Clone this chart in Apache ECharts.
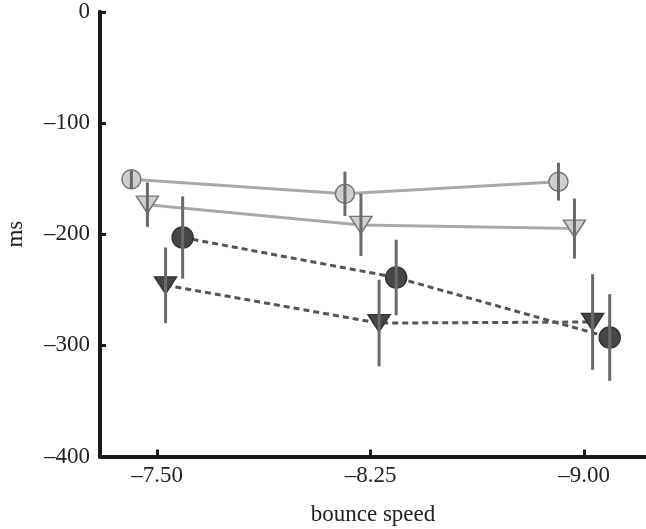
<!DOCTYPE html>
<html>
<head>
<meta charset="utf-8">
<script src="https://cdn.jsdelivr.net/npm/echarts@6/dist/echarts.min.js"></script>
<style>html,body{margin:0;padding:0;background:#fff}#c{width:646px;height:529px}</style>
</head>
<body>
<div id="c"></div>
<script>
// ---- data ----
var categories = ['–7.50', '–8.25', '–9.00'];
var yTicks = [0, -100, -200, -300, -400];
var lightCircle = [-150.6, -163.7, -152.8];
var lightCircleErr = [8, 20, 17];
var lightTriangle = [-173.5, -191.7, -195];
var lightTriangleErr = [20, 28, 27];
var darkCircle = [-203, -239, -293];
var darkCircleErr = [37, 34, 39];
var darkTriangle = [-246, -280, -279];
var darkTriangleErr = [34, 39, 43];

// ---- styling / layout ----
var FONT = '"Liberation Serif", "DejaVu Serif", serif';
var dodge = { lc: -0.12, lt: -0.045, dt: 0.04, dc: 0.12 };

function pts(vals, off) {
  return vals.map(function (v, i) { return [i + off, v]; });
}
function errPts(vals, errs, off) {
  return vals.map(function (v, i) { return [i + off, v - errs[i], v + errs[i]]; });
}
function errSeries(vals, errs, off) {
  return {
    type: 'custom',
    z: 5,
    silent: true,
    data: errPts(vals, errs, off),
    encode: { x: 0, y: [1, 2] },
    renderItem: function (params, api) {
      var a = api.coord([api.value(0), api.value(1)]);
      var b = api.coord([api.value(0), api.value(2)]);
      return {
        type: 'line',
        shape: { x1: a[0], y1: a[1], x2: b[0], y2: b[1] },
        style: { stroke: '#6a6a6a', lineWidth: 3 }
      };
    }
  };
}
function lineSeries(name, vals, off, opts) {
  return {
    name: name,
    type: 'line',
    z: 3,
    data: pts(vals, off),
    symbol: opts.symbol,
    symbolSize: opts.size,
    symbolRotate: opts.rotate || 0,
    itemStyle: { color: opts.fill, borderColor: opts.border, borderWidth: 1.5 },
    lineStyle: { color: opts.line, width: 3, type: opts.dash ? [6, 4] : 'solid' },
    animation: false
  };
}

var chart = echarts.init(document.getElementById('c'));
chart.setOption({
  animation: false,
  grid: { left: 100, right: 0, top: 11.8, bottom: 72.5, containLabel: false, outerBoundsMode: 'none' },
  xAxis: {
    type: 'value',
    min: -0.267,
    max: 2.29,
    name: 'bounce speed',
    nameLocation: 'middle',
    nameGap: 47,
    nameTextStyle: { fontFamily: FONT, fontSize: 23, color: '#222' },
    axisLine: { show: true, onZero: false, lineStyle: { color: '#1a1a1a', width: 4 } },
    axisTick: { show: true, inside: true, length: 7, lineStyle: { color: '#1a1a1a', width: 3 }, customValues: [0, 1, 2] },
    axisLabel: {
      customValues: [0, 1, 2],
      fontFamily: FONT, fontSize: 23, color: '#222', margin: 8,
      formatter: function (v) { return categories[Math.round(v)]; }
    },
    splitLine: { show: false }
  },
  yAxis: {
    type: 'value',
    min: -400,
    max: 0,
    interval: 100,
    name: 'ms',
    nameLocation: 'middle',
    nameGap: 73,
    nameRotate: 90,
    nameTextStyle: { fontFamily: FONT, fontSize: 23, color: '#222' },
    axisLine: { show: true, onZero: false, lineStyle: { color: '#1a1a1a', width: 4 } },
    axisTick: { show: true, inside: true, length: 6, lineStyle: { color: '#1a1a1a', width: 3 } },
    axisLabel: {
      fontFamily: FONT, fontSize: 23, color: '#222', margin: 10,
      formatter: function (v) { return v === 0 ? '0' : '–' + Math.abs(v); }
    },
    splitLine: { show: false }
  },
  series: [
    lineSeries('light circle', lightCircle, dodge.lc, { symbol: 'circle', size: 19, fill: '#cfcfcf', border: '#777', line: '#a9a9a9' }),
    lineSeries('light triangle', lightTriangle, dodge.lt, { symbol: 'triangle', size: [22, 17], rotate: 180, fill: '#cfcfcf', border: '#777', line: '#a9a9a9' }),
    lineSeries('dark circle', darkCircle, dodge.dc, { symbol: 'circle', size: 21, fill: '#464646', border: '#333', line: '#555', dash: true }),
    lineSeries('dark triangle', darkTriangle, dodge.dt, { symbol: 'triangle', size: [22, 17], rotate: 180, fill: '#464646', border: '#333', line: '#555', dash: true }),
    errSeries(lightCircle, lightCircleErr, dodge.lc),
    errSeries(lightTriangle, lightTriangleErr, dodge.lt),
    errSeries(darkCircle, darkCircleErr, dodge.dc),
    errSeries(darkTriangle, darkTriangleErr, dodge.dt)
  ]
});
</script>
</body>
</html>
